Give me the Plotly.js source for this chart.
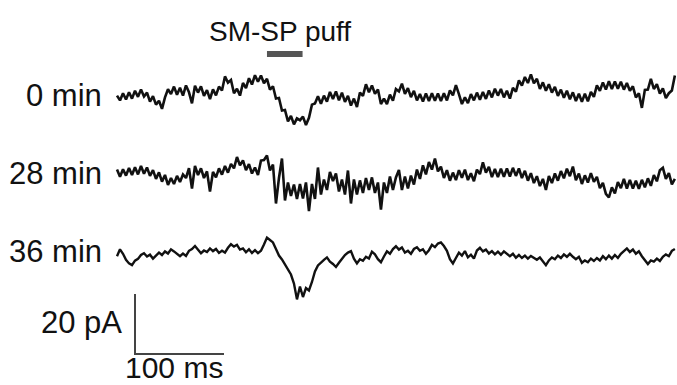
<!DOCTYPE html>
<html>
<head>
<meta charset="utf-8">
<script src="https://cdn.plot.ly/plotly-3.0.1.min.js"></script>
<style>html,body{margin:0;padding:0;background:#fff;}#chart{width:677px;height:385px;}</style>
</head>
<body>
<div id="chart"></div>
<script>
// ---- data (pA, relative to each trace's baseline; sampled every dt ms) ----
const dt = 3.37; // ms per sample
const traceLabels = ['0 min', '28 min', '36 min'];
const trace0min = [
-0.2,-1.8,0.6,-1.5,0.9,-1.2,1.4,-0.6,1.8,-0.5,
0.8,-2.2,-0.4,-3.2,-1.9,-4.6,-0.8,1.9,0.3,2.8,
0.1,2.4,-0.2,3.2,0.9,-2.8,3.1,0.8,2.9,-0.3,
1.6,-1.4,1.9,-0.1,2.8,1.5,6.2,4.1,5.0,0.6,
2.1,-0.2,4.0,2.3,5.6,3.5,6.6,4.4,6.5,3.9,
5.4,1.8,2.9,-1.2,-1.0,-5.2,-5.0,-8.8,-7.0,-9.8,
-7.8,-8.4,-7.2,-10.0,-7.6,-3.2,-2.8,-0.4,-2.9,-0.2,
-2.2,1.0,-1.3,1.2,-1.8,0.8,-2.3,-0.3,-3.5,-1.2,
-4.0,0.8,-0.3,3.6,0.9,3.2,0.4,1.8,-3.0,-1.2,
-3.0,0.1,-1.9,2.0,1.2,3.8,0.4,2.3,-0.7,1.4,
-1.8,0.3,-2.2,0.5,-2.0,0.6,-1.9,0.5,-2.0,0.6,
-1.8,1.5,-0.1,3.3,0.3,-3.0,-0.8,-2.7,0.3,-1.8,
0.8,-1.6,1.0,-1.3,1.5,-0.8,2.1,-0.2,2.0,-0.8,
1.4,-1.2,2.4,1.1,4.9,3.1,6.0,4.0,6.9,3.9,
5.4,2.0,4.2,1.4,3.6,0.8,2.7,-0.3,1.8,-0.9,
1.4,-1.4,0.9,-2.0,0.4,-2.3,0.4,-2.1,1.0,-0.6,
3.2,1.4,4.2,1.8,4.6,2.0,4.5,2.1,4.4,1.8,
4.0,1.4,2.9,-0.8,0.6,-4.3,1.7,1.8,5.4,2.0,
3.6,0.5,2.2,-1.0,0.6,1.5,6.5];
const trace28min = [
0.8,-1.6,0.9,-1.2,1.3,-1.0,1.6,-0.8,2.0,-0.6,
1.5,-1.3,0.6,-2.3,-0.1,-3.2,-1.0,-4.3,-2.0,-4.0,
-1.3,-3.3,-0.8,-2.0,1.3,-5.5,2.0,-1.0,1.2,-2.0,
0.2,-6.5,0.0,-1.8,1.2,-0.9,2.0,-0.2,2.7,1.2,
5.0,2.2,3.9,0.6,2.6,-0.5,1.5,-1.0,3.8,4.0,
5.5,0.5,2.5,-10.5,-2.0,4.5,-9.5,-3.5,-8.0,-4.2,
-9.0,-4.0,-8.8,-3.5,-13.0,-4.0,-9.0,1.5,-7.5,-2.5,
-6.0,0.0,-3.0,-0.5,-6.5,-2.5,-7.5,0.5,-10.5,-2.5,
-7.5,-2.8,-7.0,-2.0,-6.0,-1.8,-7.0,-3.5,-12.5,-3.5,
-7.0,-1.5,-6.0,-1.8,0.7,-6.0,-1.5,-5.5,-1.2,-4.2,
0.8,-2.3,2.2,-0.8,3.3,0.8,4.5,0.2,1.8,-2.0,
0.6,-2.9,-0.2,-2.7,0.6,-1.9,0.8,-2.7,-0.4,-3.1,
0.8,-0.7,3.2,-0.2,1.7,-1.7,1.0,-1.7,1.1,-1.6,
1.2,-1.5,1.4,-1.3,1.2,-2.0,0.4,-2.9,-0.4,-3.7,
-1.4,-4.7,-2.3,-6.0,-1.3,-3.7,-0.5,-2.9,0.3,-2.1,
1.1,-1.4,1.8,-2.7,-0.5,-4.0,-1.1,-3.5,-0.4,-3.3,
-1.6,-5.4,-3.6,-7.3,-8.5,-5.1,-7.1,-3.4,-5.4,-2.3,
-5.5,-2.6,-5.5,-2.9,-5.6,-2.6,-5.1,-2.1,-4.6,-1.0,
-3.1,0.6,1.4,-2.3,-0.4,-4.1,-2.3];
const trace36min = [
-1.4,0.9,-0.6,-2.6,-3.8,-4.4,-2.9,-2.3,-1.0,-0.4,
-1.5,-0.9,-2.2,-1.1,-0.2,-1.0,0.2,-0.5,0.9,0.2,
-0.7,-1.4,-0.5,-1.3,0.4,1.0,2.0,0.6,-0.4,0.5,
0.0,1.2,0.3,1.0,-0.3,0.4,-0.2,1.4,2.6,1.8,
2.4,0.8,1.2,-0.1,0.9,-0.3,0.6,-0.4,0.4,2.5,
4.8,4.0,3.2,1.0,-1.2,-2.5,-4.2,-5.5,-7.5,-10.5,
-15.8,-11.5,-15.0,-12.0,-12.8,-10.0,-6.5,-4.5,-3.4,-2.6,
-1.8,-3.2,-4.0,-5.0,-3.6,-2.2,-1.0,-0.2,0.3,-2.2,
-3.8,-2.4,-2.9,-1.6,-2.2,0.1,-0.8,-2.4,-3.4,-1.5,
0.2,-0.6,1.0,1.9,0.8,1.5,-0.2,0.4,-0.6,1.0,
1.6,0.4,0.9,-0.6,0.6,2.4,1.6,2.8,3.2,2.0,
0.4,-2.4,-3.8,-2.0,-0.2,-1.2,0.3,-1.8,-0.9,-2.2,
0.5,1.4,0.2,0.8,-0.5,0.3,-0.8,0.1,-0.9,0.2,
-0.7,-1.4,-0.6,-1.9,-1.0,-2.0,-1.2,-2.2,-1.3,-2.0,
-2.6,-1.8,-3.2,-4.4,-2.8,-1.8,-2.4,-1.2,-2.0,-0.8,
-1.6,-0.6,-1.6,-2.4,-1.6,-3.6,-2.8,-3.4,-2.2,-3.0,
-2.0,-2.8,-1.4,-2.4,-1.2,-2.2,-1.0,-2.0,-0.6,0.2,
1.2,0.0,0.8,-0.6,0.2,-1.4,-2.6,-4.0,-2.8,-3.2,
-2.2,-3.0,-1.6,-0.8,-1.4,0.4,1.0];
const puffLabel = 'SM-SP puff';
const puffStartMs = 168.5, puffDurMs = 40;
const scaleBarPA = 20, scaleBarMS = 100;
const scaleBarLabels = ['20 pA', '100 ms'];

// ---- layout geometry ----
const pxPerMs = 0.89, pxPerPA = 3.0, W = 677, H = 385;
const traceStartPx = 117;
const x0 = -traceStartPx / pxPerMs;
const X = px => px / pxPerMs + x0;          // pixel -> ms
const Y = py => (H - py) / pxPerPA;          // pixel -> pA
const baselines = [Y(95), Y(172), Y(252)];
const series = [trace0min, trace28min, trace36min];
const widths = [2.6, 2.6, 2.4];

const data = series.map((vals, k) => ({
  type: 'scatter', mode: 'lines',
  x: vals.map((_, i) => i * dt),
  y: vals.map(v => v + baselines[k]),
  line: {color: '#111', width: widths[k]},
  hoverinfo: 'skip', showlegend: false
}));

// scale bar
const sbX = X(135), sbY = Y(354);
data.push({
  type: 'scatter', mode: 'lines',
  x: [sbX, sbX, sbX + scaleBarMS],
  y: [sbY + scaleBarPA, sbY, sbY],
  line: {color: '#444', width: 2}, hoverinfo: 'skip', showlegend: false
});
// puff bar
data.push({
  type: 'scatter', mode: 'lines',
  x: [puffStartMs, puffStartMs + puffDurMs],
  y: [Y(54), Y(54)],
  line: {color: '#555', width: 6}, hoverinfo: 'skip', showlegend: false
});

const fam = 'Liberation Sans, Arial, sans-serif';
const font = {family: fam, size: 31, color: '#111'};
const annotations = traceLabels.map((t, k) => ({
  text: t, x: X(104), y: Y([95, 173, 251][k]), xref: 'x', yref: 'y',
  xanchor: 'right', yanchor: 'middle', showarrow: false, font
}));
annotations.push({text: puffLabel, x: X(280), y: Y(31), xref: 'x', yref: 'y',
  xanchor: 'center', yanchor: 'middle', showarrow: false,
  font: {family: fam, size: 28, color: '#111'}});
annotations.push({text: scaleBarLabels[0], x: X(124), y: Y(322), xref: 'x', yref: 'y',
  xanchor: 'right', yanchor: 'middle', showarrow: false, font});
annotations.push({text: scaleBarLabels[1], x: X(174), y: Y(385), xref: 'x', yref: 'y',
  xanchor: 'center', yanchor: 'bottom', showarrow: false, borderpad: 0,
  font: {family: fam, size: 30, color: '#111'}});

const layout = {
  width: W, height: H,
  margin: {l: 0, r: 0, t: 0, b: 0, pad: 0},
  paper_bgcolor: '#fff', plot_bgcolor: '#fff',
  xaxis: {range: [x0, x0 + W / pxPerMs], visible: false, fixedrange: true},
  yaxis: {range: [0, H / pxPerPA], visible: false, fixedrange: true},
  annotations, showlegend: false
};
Plotly.newPlot('chart', data, layout, {staticPlot: true, displayModeBar: false});
</script>
</body>
</html>
